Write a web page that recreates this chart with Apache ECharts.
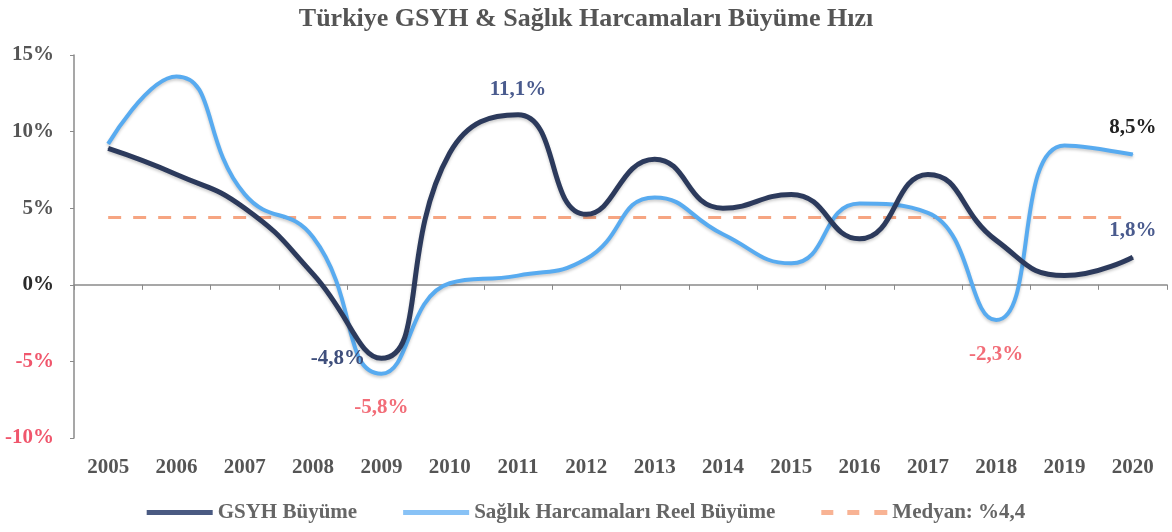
<!DOCTYPE html>
<html>
<head>
<meta charset="utf-8">
<script src="https://cdn.jsdelivr.net/npm/echarts@6/dist/echarts.min.js"></script>
<style>
  html, body { margin: 0; padding: 0; background: #fff; }
  #myChart { width: 1172px; height: 532px; }
</style>
</head>
<body>
<div id="myChart"></div>
<script>
// veriler
var years = ["2005", "2006", "2007", "2008", "2009", "2010", "2011", "2012",
  "2013", "2014", "2015", "2016", "2017", "2018", "2019", "2020"];
var gsyhValues = [8.9, 7.2, 5.0, 0.7, -4.8, 8.6, 11.1, 4.6, 8.2, 5.0, 5.9, 3.0, 7.2, 2.9, 0.6, 1.8];
var saglikValues = [9.2, 13.6, 5.9, 3.1, -5.8, 0.1, 0.6, 1.7, 5.7, 3.3, 1.4, 5.3, 4.7, -2.3, 9.1, 8.5];
var medyanValues = [4.4, 4.4, 4.4, 4.4, 4.4, 4.4, 4.4, 4.4, 4.4, 4.4, 4.4, 4.4, 4.4, 4.4, 4.4, 4.4];
var yTicks = [-10, -5, 0, 5, 10, 15];

var seriesNames = ["GSYH Büyüme", "Sağlık Harcamaları Reel Büyüme", "Medyan: %4,4"];

// etiketli noktalar: yıl indeksi, konum, renk
var gsyhLabels = [
  {i: 4, pos: "left", dist: 16, color: "#3f4f7c"},
  {i: 6, pos: "top", dist: 14, color: "#4a5b8e"},
  {i: 15, pos: "top", dist: 16, color: "#4a5b8e"}
];
var saglikLabels = [
  {i: 4, pos: "bottom", dist: 23, color: "#f26d78"},
  {i: 13, pos: "bottom", dist: 24, color: "#f26d78"},
  {i: 15, pos: "top", dist: 16, color: "#222222"}
];

var serif = "'Liberation Serif', 'DejaVu Serif', serif";

function fmt(v) {
  return v.toFixed(1).replace(".", ",") + "%";
}

function buildData(values, labels) {
  return values.map(function (v, idx) {
    var item = {value: v};
    labels.forEach(function (l) {
      if (l.i === idx) {
        item.label = {
          show: true,
          position: l.pos,
          distance: l.dist,
          color: l.color,
          fontFamily: serif,
          fontWeight: "bold",
          fontSize: 21,
          formatter: function (p) { return fmt(p.value); }
        };
      }
    });
    return item;
  });
}

function legendItem(name, icon, color) {
  return {name: name, icon: icon, itemStyle: {color: color}, lineStyle: {color: color}};
}

var myChart = echarts.init(document.getElementById("myChart"));

var option = {
  animation: false,
  backgroundColor: "#ffffff",
  title: {
    text: "Türkiye GSYH & Sağlık Harcamaları Büyüme Hızı",
    left: "center",
    top: 1,
    textStyle: {fontFamily: serif, fontWeight: "bold", fontSize: 26, color: "#555555"}
  },
  legend: {
    bottom: 4,
    left: "center",
    itemWidth: 66,
    itemHeight: 5,
    itemGap: 46,
    data: [
      legendItem(seriesNames[0], "path://M0,0H66V5H0Z", "#4a5a82"),
      legendItem(seriesNames[1], "path://M0,0H66V5H0Z", "#88c2f6"),
      legendItem(seriesNames[2], "path://M0,0H12V5H0Z M26,0H38V5H26Z M53,0H66V5H53Z", "#f8b394")
    ],
    textStyle: {fontFamily: serif, fontWeight: "bold", fontSize: 21, color: "#666666"}
  },
  grid: {left: 74, right: 5, top: 55, bottom: 94, containLabel: false},
  xAxis: [
    {
      type: "category",
      data: years,
      position: "bottom",
      axisLine: {show: false, onZero: false},
      axisTick: {show: false},
      axisLabel: {
        margin: 19,
        fontFamily: serif, fontWeight: "bold", fontSize: 21, color: "#555555"
      }
    },
    {
      // sıfır çizgisi
      type: "category",
      data: years,
      position: "bottom",
      axisLine: {show: true, onZero: true, lineStyle: {color: "#8a8a8a", width: 1.5}},
      axisTick: {show: true, length: 5, lineStyle: {color: "#8a8a8a"}},
      axisLabel: {show: false}
    }
  ],
  yAxis: {
    type: "value",
    min: yTicks[0],
    max: yTicks[yTicks.length - 1],
    interval: 5,
    splitLine: {show: false},
    axisLine: {show: true, lineStyle: {color: "#8a8a8a", width: 1.5}},
    axisTick: {show: true, length: 4, lineStyle: {color: "#8a8a8a"}},
    axisLabel: {
      margin: 20,
      fontFamily: serif, fontWeight: "bold", fontSize: 21,
      formatter: function (v) {
        if (v < 0) return "{neg|" + v + "%}";
        if (v === 0) return "{zero|" + v + "%}";
        return "{pos|" + v + "%}";
      },
      rich: {
        neg: {color: "#f0566c", fontFamily: serif, fontWeight: "bold", fontSize: 21},
        zero: {color: "#2a2a2a", fontFamily: serif, fontWeight: "bold", fontSize: 21},
        pos: {color: "#555555", fontFamily: serif, fontWeight: "bold", fontSize: 21}
      }
    }
  },
  series: [
    {
      name: seriesNames[2],
      type: "line",
      data: medyanValues,
      symbol: "none",
      z: 1,
      itemStyle: {color: "#f6a582"},
      lineStyle: {color: "#f6a582", width: 3, type: [13, 12]}
    },
    {
      name: seriesNames[0],
      type: "line",
      data: buildData(gsyhValues, gsyhLabels),
      smooth: 0.5,
      symbol: "circle",
      symbolSize: 1,
      z: 3,
      itemStyle: {color: "#2c3a5c"},
      lineStyle: {
        color: "#2c3a5c", width: 5,
        shadowColor: "rgba(0,0,0,0.2)", shadowBlur: 3, shadowOffsetY: 2
      }
    },
    {
      name: seriesNames[1],
      type: "line",
      data: buildData(saglikValues, saglikLabels),
      smooth: 0.5,
      symbol: "circle",
      symbolSize: 1,
      z: 2,
      itemStyle: {color: "#58abf0"},
      lineStyle: {
        color: "#58abf0", width: 4,
        shadowColor: "rgba(0,0,0,0.2)", shadowBlur: 3, shadowOffsetY: 2
      }
    }
  ]
};

myChart.setOption(option);
</script>
</body>
</html>
